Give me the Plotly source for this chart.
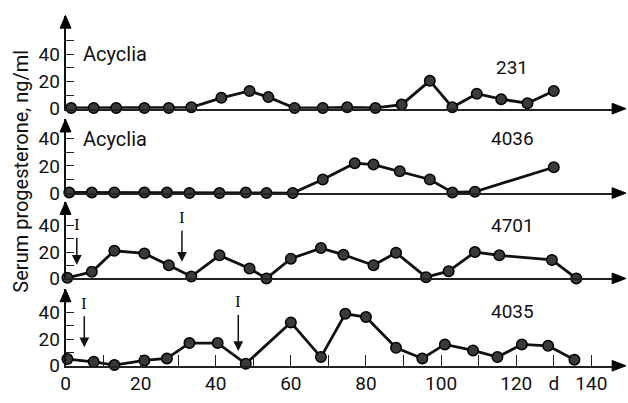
import plotly.graph_objects as go

# ---------------- data ----------------
days_231 = [1.5, 7.5, 13.5, 21, 27.5, 33.5, 41.5, 49, 54, 61, 68.5, 75, 82.5, 89.5, 97, 103, 109.5, 116, 123, 130]
prog_231 = [0.5, 0.5, 0.5, 0.5, 0.5, 1, 8, 13, 8.5, 0.5, 0.5, 1, 0.5, 3, 20.5, 1, 11, 7, 4, 13]

days_4036 = [1, 7, 13, 21, 27, 33, 41, 48, 53.5, 60.5, 68.5, 77, 82, 89, 97, 103, 109, 130]
prog_4036 = [0.5, 0.5, 0.5, 0.5, 0.5, 0, 0, 0.5, 0, 0, 10, 22, 21, 16, 10, 0.5, 1, 19]

days_4701 = [0.5, 7, 13, 21, 27.5, 33.5, 41, 49, 53.5, 60, 68, 74, 82, 88, 96, 102, 109, 115.5, 129.5, 136]
prog_4701 = [0.5, 5, 21, 19, 10, 1.5, 17.5, 7.5, 0, 15, 23, 18, 10, 19.5, 1, 5.5, 20, 17.5, 14, 0]

days_4035 = [0.5, 7.5, 13, 21, 27, 33, 40.5, 48, 60, 68, 74.5, 80, 88, 95, 101, 108.5, 115, 121.5, 128.5, 135.5]
prog_4035 = [5, 3, 0.5, 4, 5.5, 17, 17, 1.5, 32.5, 6.5, 39, 36.5, 13.5, 5.5, 16, 11.5, 6.5, 16, 15, 4.5]

treat_days_4701 = [3, 31]
treat_days_4035 = [5, 46]

animal_ids = ["231", "4036", "4701", "4035"]
panel_notes = ["Acyclia", "Acyclia", "", ""]

x_tickvals = [0, 10, 20, 30, 40, 50, 60, 70, 80, 90, 100, 110, 120, 130, 140]
x_ticktext = ["0", "", "20", "", "40", "", "60", "", "80", "", "100", "", "120", "d", "140"]
y_title = "Serum progesterone, ng/ml"

# ---------------- layout helpers ----------------
W, H = 628, 403
X0, XEND = 61, 614
PX_PER_DAY = 3.786
FONT = "Roboto, Liberation Sans, DejaVu Sans, sans-serif"
SERIF = "Liberation Serif, DejaVu Serif, serif"


def fx(px):
    return px / W


def fy(py):
    return 1 - py / H


panels = [
    dict(days=days_231, vals=prog_231, bottom=112, top=16, scale=1.40,
         tv=[0, 10, 20, 30, 40, 50], tt=["0", "", "20", "", "40", ""], id_y=30),
    dict(days=days_4036, vals=prog_4036, bottom=199, top=123, scale=1.40,
         tv=[0, 10, 20, 30, 40], tt=["0", "", "20", "", "40"], id_y=40),
    dict(days=days_4701, vals=prog_4701, bottom=287, top=208, scale=1.36,
         tv=[0, 10, 20, 30, 40], tt=["0", "", "20", "", "40"], id_y=40),
    dict(days=days_4035, vals=prog_4035, bottom=377, top=298, scale=1.375,
         tv=[0, 10, 20, 30, 40], tt=["0", "", "20", "", "40"], id_y=41),
]

fig = go.Figure()
xrange_ = [0, (XEND - X0) / PX_PER_DAY]
shapes = []
annotations = []
layout = {}

for i, p in enumerate(panels, start=1):
    xs = "x" if i == 1 else f"x{i}"
    ys = "y" if i == 1 else f"y{i}"
    fig.add_trace(go.Scatter(
        x=p["days"], y=p["vals"], xaxis=xs, yaxis=ys,
        mode="lines+markers", cliponaxis=False, showlegend=False,
        line=dict(color="#111111", width=2.8),
        marker=dict(size=10.5, color="#3a3a3a", line=dict(color="#000000", width=1.5)),
    ))
    ytop = (p["bottom"] - p["top"]) / p["scale"]
    xa = dict(domain=[fx(X0), fx(XEND)], range=xrange_, anchor=ys,
              showline=True, linecolor="#222222", linewidth=1.5,
              showgrid=False, zeroline=False, fixedrange=True)
    if i == 4:
        xa.update(ticks="inside", ticklen=11, tickwidth=1.4, tickcolor="#222222",
                  tickvals=x_tickvals, ticktext=x_ticktext,
                  tickfont=dict(family=FONT, size=19, color="#111111"))
    else:
        xa.update(ticks="", showticklabels=False)
    ya = dict(domain=[fy(p["bottom"]), fy(p["top"])], range=[0, ytop], anchor=xs,
              showline=True, linecolor="#111111", linewidth=1.6,
              showgrid=False, zeroline=False, fixedrange=True,
              ticks="inside", ticklen=9, tickwidth=1.4, tickcolor="#222222",
              tickvals=p["tv"], ticktext=p["tt"],
              tickfont=dict(family=FONT, size=19, color="#111111"))
    layout["xaxis" if i == 1 else f"xaxis{i}"] = xa
    layout["yaxis" if i == 1 else f"yaxis{i}"] = ya

    # arrowheads of the axes
    t, b = p["top"], p["bottom"]
    shapes.append(dict(type="path", xref="paper", yref="paper",
                       path=f"M {fx(X0)},{fy(t)} L {fx(X0-5.5)},{fy(t+13)} L {fx(X0+5.5)},{fy(t+13)} Z",
                       fillcolor="#000000", line=dict(color="#000000", width=1)))
    shapes.append(dict(type="path", xref="paper", yref="paper",
                       path=f"M {fx(626)},{fy(b)} L {fx(612)},{fy(b-5.5)} L {fx(612)},{fy(b+5.5)} Z",
                       fillcolor="#000000", line=dict(color="#000000", width=1)))

    # labels
    annotations.append(dict(text=animal_ids[i - 1], x=119, y=p["id_y"], xref=xs, yref=ys,
                            showarrow=False, xanchor="center", yanchor="middle",
                            font=dict(family=FONT, size=19, color="#111111")))
    if panel_notes[i - 1]:
        annotations.append(dict(text=panel_notes[i - 1], x=4.2, y=40, xref=xs, yref=ys,
                                showarrow=False, xanchor="left", yanchor="middle",
                                font=dict(family=FONT, size=20, color="#111111")))

# treatment arrows ("I")
arrow_specs = [
    ("x3", "y3", treat_days_4701[0], 10.4, -40),
    ("x3", "y3", treat_days_4701[1], 12.6, -44),
    ("x4", "y4", treat_days_4035[0], 13.8, -44),
    ("x4", "y4", treat_days_4035[1], 11.1, -49),
]
for xs, ys, d, tip, ay in arrow_specs:
    annotations.append(dict(text="I", x=d, y=tip, xref=xs, yref=ys, showarrow=True,
                            ax=0, ay=ay, arrowhead=2, arrowsize=1.3, arrowwidth=1.5,
                            arrowcolor="#111111", standoff=0, startstandoff=2,
                            font=dict(family=SERIF, size=17, color="#111111")))

annotations.append(dict(text=y_title, x=fx(16), y=fy(176), xref="paper", yref="paper",
                        showarrow=False, textangle=-90, xanchor="center", yanchor="middle",
                        font=dict(family=FONT, size=20, color="#111111")))

fig.update_layout(
    width=W, height=H, margin=dict(l=0, r=0, t=0, b=0),
    paper_bgcolor="white", plot_bgcolor="white",
    shapes=shapes, annotations=annotations, showlegend=False,
    **layout,
)

fig.write_html("out.html", config={"displayModeBar": False},
               post_script="document.body.style.margin='0';document.body.style.overflow='hidden';")
